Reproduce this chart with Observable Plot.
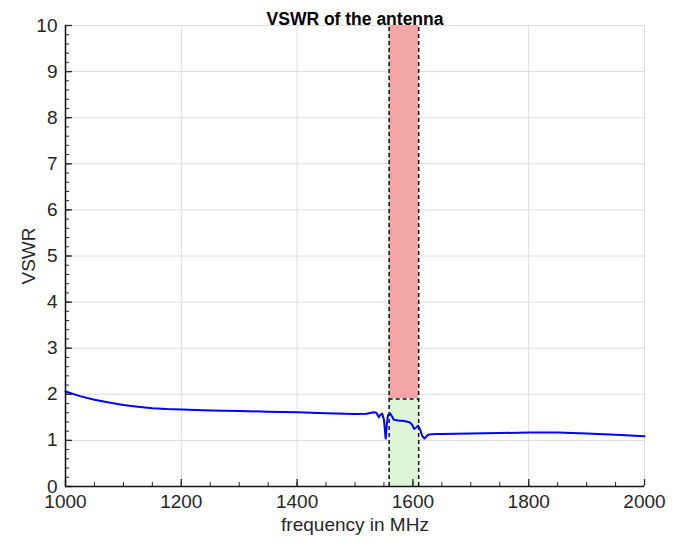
<!DOCTYPE html>
<html>
<head>
<meta charset="utf-8">
<script src="https://cdn.jsdelivr.net/npm/d3@7"></script>
<script src="https://cdn.jsdelivr.net/npm/@observablehq/plot@0.6"></script>
<style>
  html, body { margin: 0; padding: 0; background: #fff; }
  #chart svg { font-family: "Liberation Sans", Arial, sans-serif; }
</style>
</head>
<body>
<div id="chart"></div>
<script>
const title = "VSWR of the antenna";
const xLabel = "frequency in MHz";
const yLabel = "VSWR";

const freq = [1000, 1025, 1050, 1075, 1100, 1125, 1150, 1175, 1200, 1250, 1300, 1350, 1400, 1450, 1500, 1520, 1532, 1537, 1541, 1544, 1547, 1550, 1553, 1555, 1557, 1561, 1564, 1567, 1575, 1585, 1595, 1599, 1602, 1606, 1609, 1612, 1616, 1620, 1624, 1628, 1640, 1650, 1700, 1750, 1800, 1850, 1900, 1950, 2000];
const vswr = [2.06, 1.96, 1.88, 1.82, 1.77, 1.73, 1.70, 1.68, 1.67, 1.65, 1.64, 1.62, 1.61, 1.59, 1.57, 1.58, 1.61, 1.60, 1.50, 1.56, 1.58, 1.45, 1.04, 1.35, 1.55, 1.58, 1.52, 1.45, 1.43, 1.42, 1.39, 1.33, 1.25, 1.28, 1.32, 1.25, 1.10, 1.04, 1.10, 1.13, 1.14, 1.14, 1.15, 1.16, 1.17, 1.17, 1.15, 1.12, 1.09];

const bandLow = 1559;
const bandHigh = 1610;
const vswrLimit = 1.9;
const yMax = 10;

const xTicks = [1000, 1200, 1400, 1600, 1800, 2000];
const yTicks = [0, 1, 2, 3, 4, 5, 6, 7, 8, 9, 10];
const xMinor = d3.range(1000, 2001, 50);
const yMinor = d3.range(0, 10.01, 0.2).map(v => Math.round(v * 10) / 10);

const data = freq.map((f, i) => ({f, v: vswr[i]}));
const band = [{x1: bandLow, x2: bandHigh}];

const chart = Plot.plot({
  width: 684,
  height: 545,
  marginLeft: 65,
  marginRight: 40,
  marginTop: 25,
  marginBottom: 59,
  style: {fontSize: "19px", fontFamily: "Liberation Sans, Arial, sans-serif", color: "#262626"},
  x: {domain: [1000, 2000]},
  y: {domain: [0, yMax]},
  marks: [
    Plot.gridX(xTicks, {stroke: "#dedede", strokeOpacity: 1, strokeWidth: 1}),
    Plot.gridY(yTicks, {stroke: "#dedede", strokeOpacity: 1, strokeWidth: 1}),
    Plot.rectY(band, {x1: "x1", x2: "x2", y1: vswrLimit, y2: yMax, fill: "#f4a6a6"}),
    Plot.rectY(band, {x1: "x1", x2: "x2", y1: 0, y2: vswrLimit, fill: "#dcf6d6"}),
    Plot.ruleX([bandLow, bandHigh], {y1: 0, y2: yMax, stroke: "#111", strokeWidth: 1.5, strokeDasharray: "4,3"}),
    Plot.ruleY([vswrLimit], {x1: bandLow, x2: bandHigh, stroke: "#111", strokeWidth: 1.5, strokeDasharray: "4,3"}),
    Plot.line(data, {x: "f", y: "v", stroke: "#0000ff", strokeWidth: 2}),
    Plot.axisX(xTicks, {tickSize: 0, tickPadding: 8, tickFormat: "d", label: xLabel, labelAnchor: "center", labelArrow: "none", labelOffset: 44, fontSize: 19, color: "#262626"}),
    Plot.axisX(xMinor, {tickSize: 4, dy: -4, text: null, label: null, stroke: "#262626"}),
    Plot.axisX(xTicks, {tickSize: 7, dy: -7, text: null, label: null, stroke: "#262626", strokeWidth: 1.3}),
    Plot.axisY(yTicks, {tickSize: 0, tickPadding: 8, tickFormat: "d", label: yLabel, labelAnchor: "center", labelArrow: "none", labelOffset: 44, fontSize: 19, color: "#262626"}),
    Plot.axisY(yMinor, {tickSize: 4, dx: 4, text: null, label: null, stroke: "#262626"}),
    Plot.axisY(yTicks, {tickSize: 7, dx: 7, text: null, label: null, stroke: "#262626", strokeWidth: 1.3}),
    Plot.ruleX([1000], {stroke: "#111", strokeWidth: 1.5}),
    Plot.ruleY([0], {stroke: "#111", strokeWidth: 1.5}),
    Plot.text([title], {frameAnchor: "top", dy: -13, fontWeight: "bold", fontSize: 17.5, fill: "#000"})
  ]
});
document.getElementById("chart").appendChild(chart);
</script>
</body>
</html>
